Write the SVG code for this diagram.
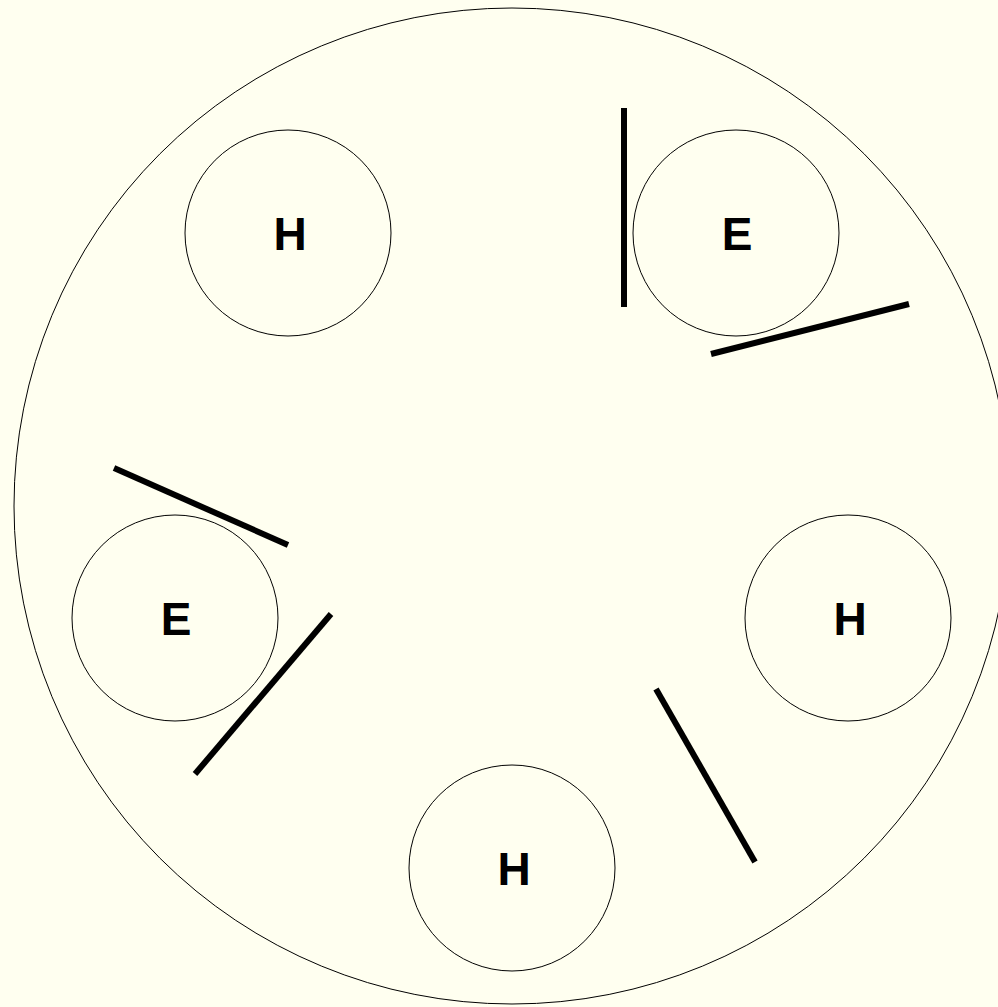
<svg xmlns="http://www.w3.org/2000/svg" width="998" height="1007" viewBox="0 0 998 1007">
<style>
.bg{fill:#FFFFF0}
.big{fill:#FFFFF0;stroke:#000;stroke-width:1}
.node circle{fill:#FFFFF0;stroke:#000;stroke-width:1}
.node text{font-family:"Liberation Sans",Arial,sans-serif;font-weight:bold;font-size:46px;text-anchor:middle;fill:#000}
.bar{stroke:#000;stroke-width:6;fill:none}
</style>
<rect class="bg" x="0" y="0" width="998" height="1007"/>
<circle class="big" cx="512" cy="506" r="498"/>
<g id="node-h1" class="node"><circle cx="288" cy="233" r="103"/><text x="290" y="250">H</text></g>
<g id="node-e1" class="node"><circle cx="736" cy="233" r="103"/><text x="737" y="250">E</text></g>
<g id="node-h2" class="node"><circle cx="848" cy="618" r="103"/><text x="850" y="635">H</text></g>
<g id="node-h3" class="node"><circle cx="512" cy="868" r="103"/><text x="514" y="885">H</text></g>
<g id="node-e2" class="node"><circle cx="175" cy="618" r="103"/><text x="176" y="635">E</text></g>
<g id="connectors">
<line class="bar" x1="624" y1="108" x2="624" y2="307"/>
<line class="bar" x1="711" y1="354" x2="909" y2="304"/>
<line class="bar" x1="114" y1="468" x2="288" y2="545"/>
<line class="bar" x1="331" y1="614" x2="195" y2="774"/>
<line class="bar" x1="656" y1="689" x2="755" y2="862"/>
</g>
</svg>
